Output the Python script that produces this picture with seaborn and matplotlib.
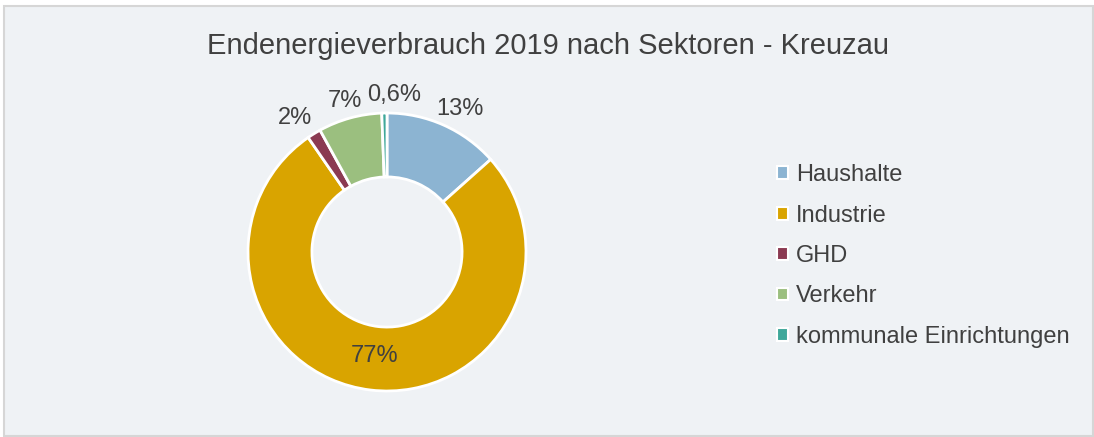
import numpy as np
import matplotlib.pyplot as plt
from matplotlib.patches import Rectangle
import seaborn as sns

sectors = ["Haushalte", "Industrie", "GHD", "Verkehr", "kommunale Einrichtungen"]
shares = [13.4, 77.0, 1.6, 7.4, 0.6]
share_labels = ["13%", "77%", "2%", "7%", "0,6%"]
colors = ["#8cb4d2", "#d9a400", "#8b3a52", "#9bbf7f", "#3fa89a"]

sns.set_style("white")
plt.rcParams["font.family"] = ["Liberation Sans", "DejaVu Sans"]

fig = plt.figure(figsize=(10.94, 4.37), dpi=100, facecolor="white")
W, H = 1094, 437

# chart area with light border
fig.patches.append(Rectangle((4 / W, 1 / H), 1 - 5 / W, 1 - 7 / H, transform=fig.transFigure,
                             facecolor="#eff2f5", edgecolor="#d6d6d6", linewidth=1.5, zorder=-5))

fig.text(548 / W, 1 - 46 / H, "Endenergieverbrauch 2019 nach Sektoren - Kreuzau",
         ha="center", va="center", fontsize=21, color="#404040")

cx, cy, r = 387, 252, 139
ax = fig.add_axes([(cx - r) / W, (H - cy - r) / H, 2 * r / W, 2 * r / H])
ax.set_facecolor("none")
wedges, _ = ax.pie(shares, colors=colors, startangle=90, counterclock=False, radius=1,
                   wedgeprops=dict(width=0.46, edgecolor="white", linewidth=2))
ax.set_xlim(-1, 1)
ax.set_ylim(-1, 1)
ax.set_aspect("equal")
ax.axis("off")

# small nudges so the outside labels sit like in the original
nudge = {"13%": 0.06, "0,6%": 0.07, "2%": -0.07}
for w, lab in zip(wedges, share_labels):
    ang = np.deg2rad((w.theta1 + w.theta2) / 2)
    dist = 0.75 if lab == "77%" else 1.13
    ax.text(dist * np.cos(ang) + nudge.get(lab, 0.0), dist * np.sin(ang), lab,
            ha="center", va="center", fontsize=17, color="#404040", clip_on=False)

handles = [plt.Rectangle((0, 0), 1, 1, facecolor=c, edgecolor="white", linewidth=1.5) for c in colors]
fig.legend(handles, sectors, loc="upper left", bbox_to_anchor=(756 / W, 1 - 143 / H),
           frameon=False, fontsize=17, labelcolor="#404040", handlelength=0.45, handleheight=0.45,
           handletextpad=0.35, labelspacing=0.78)

fig.savefig("out.png", dpi=100, facecolor="white")
